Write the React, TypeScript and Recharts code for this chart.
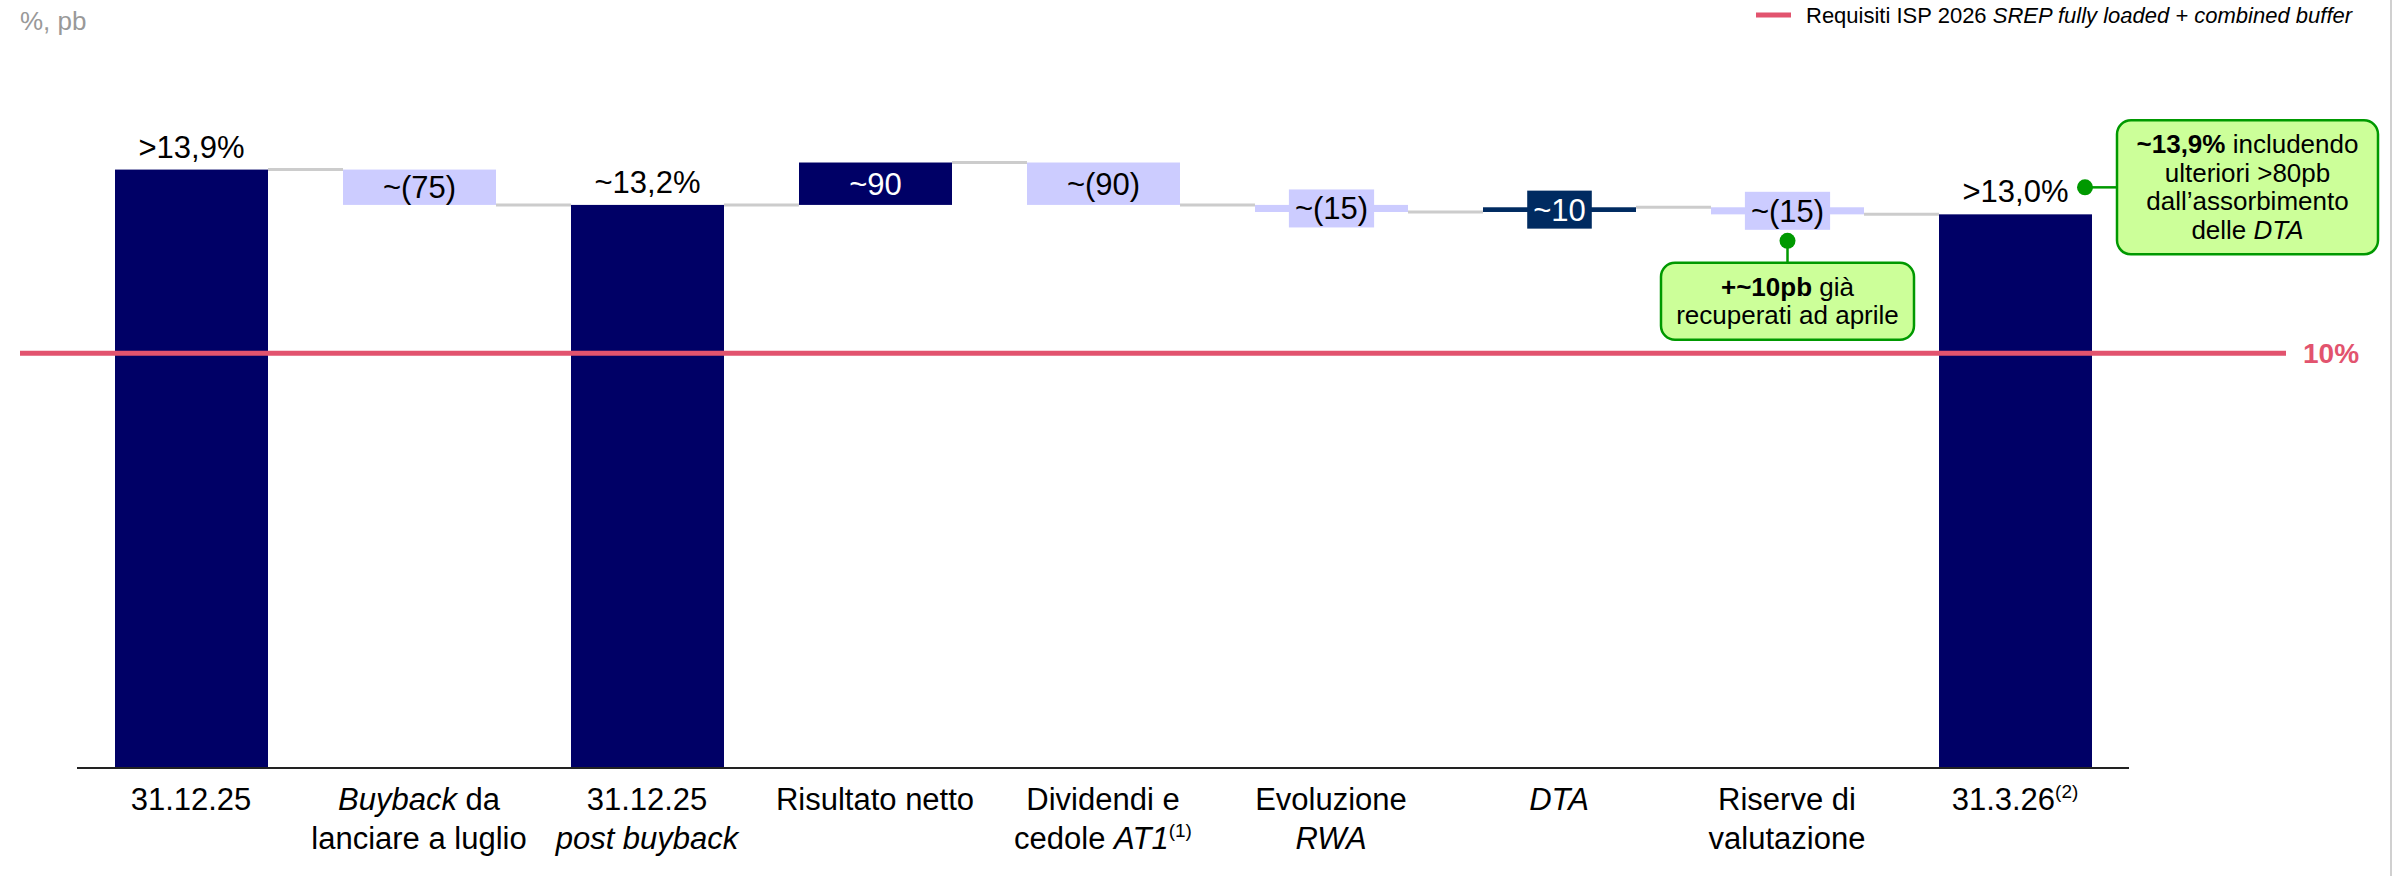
import React from "react";
import { ComposedChart, Bar, XAxis, YAxis, ReferenceLine } from "recharts";

// --- data -----------------------------------------------------------------
const categories = [
  "31.12.25",
  "Buyback da lanciare a luglio",
  "31.12.25 post buyback",
  "Risultato netto",
  "Dividendi e cedole AT1",
  "Evoluzione RWA",
  "DTA",
  "Riserve di valutazione",
  "31.3.26",
];
const kinds = ["total", "delta", "total", "delta", "delta", "delta", "delta", "delta", "total"];
// totals in %, deltas in % points (75pb = 0.75)
const values = [13.9, -0.75, 13.15, 0.9, -0.9, -0.15, 0.1, -0.15, 12.95];
const valueLabels = [">13,9%", "~(75)", "~13,2%", "~90", "~(90)", "~(15)", "~10", "~(15)", ">13,0%"];
const barColors = ["#000066", "#CCCCFF", "#000066", "#000066", "#CCCCFF", "#CCCCFF", "#002B61", "#CCCCFF", "#000066"];

const requirement = 10;
const requirementLabel = "10%";
const legendText = "Requisiti ISP 2026 ";
const legendItalic = "SREP fully loaded + combined buffer";
const unitLabel = "%, pb";

// the axis is broken: totals start from the axis floor, not from 0
const axisFloor = 1.2;
const axisTop = 16.65;

type Seg = { t: string; i?: boolean; b?: boolean; sup?: boolean };

const tickLines: Seg[][][] = [
  [[{ t: "31.12.25" }]],
  [[{ t: "Buyback", i: true }, { t: " da" }], [{ t: "lanciare a luglio" }]],
  [[{ t: "31.12.25" }], [{ t: "post buyback", i: true }]],
  [[{ t: "Risultato netto" }]],
  [[{ t: "Dividendi e" }], [{ t: "cedole " }, { t: "AT1", i: true }, { t: "(1)", sup: true }]],
  [[{ t: "Evoluzione" }], [{ t: "RWA", i: true }]],
  [[{ t: "DTA", i: true }]],
  [[{ t: "Riserve di" }], [{ t: "valutazione" }]],
  [[{ t: "31.3.26" }, { t: "(2)", sup: true }]],
];

const notes: { at: number; side: "below" | "right"; lines: Seg[][] }[] = [
  {
    at: 7,
    side: "below",
    lines: [[{ t: "+~10pb", b: true }, { t: " già" }], [{ t: "recuperati ad aprile" }]],
  },
  {
    at: 8,
    side: "right",
    lines: [
      [{ t: "~13,9%", b: true }, { t: " includendo" }],
      [{ t: "ulteriori >80pb" }],
      [{ t: "dall’assorbimento" }],
      [{ t: "delle " }, { t: "DTA", i: true }],
    ],
  },
];

// --- layout ---------------------------------------------------------------
const W = 2394;
const H = 876;
const FONT = '"Liberation Sans", Arial, sans-serif';
const MARGIN = { top: 40, right: 265, bottom: 8, left: 77 };
const BAR_SIZE = 153;
const BAND = (W - MARGIN.left - MARGIN.right) / categories.length;
const GAP = BAND - BAR_SIZE;
const RED = "#E2536E";
const GREEN = "#009900";

let level = 0;
const rows = categories.map((name, i) => {
  if (kinds[i] === "total") {
    level = values[i];
    return { name, i, up: true, range: [axisFloor, values[i]] };
  }
  const start = level;
  level = start + values[i];
  return { name, i, up: values[i] > 0, range: [Math.min(start, level), Math.max(start, level)] };
});

const CHAR_W: Record<string, number> = { "~": 0.584, "(": 0.333, ")": 0.333 };
function textWidth(s: string, size: number) {
  return [...s].reduce((w, c) => w + (CHAR_W[c] ?? 0.556), 0) * size;
}

function Segs({ segs, supSize }: { segs: Seg[]; supSize: number }) {
  return (
    <>
      {segs.map((s, k) => (
        <tspan
          key={k}
          fontStyle={s.i ? "italic" : undefined}
          fontWeight={s.b ? "bold" : undefined}
          fontSize={s.sup ? supSize : undefined}
          dy={s.sup ? -12 : undefined}
        >
          {s.t}
        </tspan>
      ))}
    </>
  );
}

function Callout({ x, y, side, lines }: { x: number; y: number; side: string; lines: Seg[][] }) {
  const lh = 28.5;
  const bh = lines.length * lh + 20;
  const bw = side === "below" ? 253 : 261;
  let bx: number, by: number, stem: React.ReactNode;
  if (side === "below") {
    bx = x - bw / 2;
    by = y + 22;
    stem = <line x1={x} x2={x} y1={y} y2={by} stroke={GREEN} strokeWidth={2.5} />;
  } else {
    bx = x + 32;
    by = y - bh / 2;
    stem = <line x1={x} x2={bx} y1={y} y2={y} stroke={GREEN} strokeWidth={2.5} />;
  }
  return (
    <g>
      {stem}
      <circle cx={x} cy={y} r={8} fill={GREEN} />
      <rect x={bx} y={by} width={bw} height={bh} rx={14} fill="#CCFF99" stroke={GREEN} strokeWidth={2.5} />
      {lines.map((ln, k) => (
        <text
          key={k}
          x={bx + bw / 2}
          y={by + 33 + k * lh}
          textAnchor="middle"
          fontSize={26}
          fontFamily={FONT}
          fill="#000"
          style={{ whiteSpace: "pre" }}
        >
          <Segs segs={ln} supSize={17} />
        </text>
      ))}
    </g>
  );
}

function WaterfallShape(props: any) {
  const { x, y, width, height, payload } = props;
  const i: number = payload.i;
  const top = Math.min(y, y + height);
  const h = Math.abs(height);
  const cx = x + width / 2;
  const midY = top + h / 2;
  const endY = payload.up ? top : top + h;
  const color = barColors[i];
  const dark = color !== "#CCCCFF";
  const label = valueLabels[i];
  const note = notes.find((n) => n.at === i);

  let labelEl: React.ReactNode;
  if (kinds[i] === "total") {
    labelEl = (
      <text x={cx} y={top - 12} textAnchor="middle" fontSize={31} fontFamily={FONT} fill="#000">
        {label}
      </text>
    );
  } else {
    const bw = textWidth(label, 31) + 12;
    labelEl = (
      <g>
        {h < 20 && <rect x={cx - bw / 2} y={midY - 19} width={bw} height={38} fill={color} />}
        <text x={cx} y={midY + 11} textAnchor="middle" fontSize={31} fontFamily={FONT} fill={dark ? "#fff" : "#000"}>
          {label}
        </text>
      </g>
    );
  }

  return (
    <g>
      {i < categories.length - 1 && (
        <line x1={x + width} x2={x + width + GAP} y1={endY} y2={endY} stroke="#CCCCCC" strokeWidth={3} />
      )}
      <rect x={x} y={top} width={width} height={Math.max(h, 1)} fill={color} />
      {labelEl}
      {note &&
        (note.side === "below" ? (
          <Callout x={cx} y={midY + 30} side="below" lines={note.lines} />
        ) : (
          <Callout x={x + width - 7} y={top - 27} side="right" lines={note.lines} />
        ))}
    </g>
  );
}

function CategoryTick(props: any) {
  const { x, y, payload } = props;
  const idx = categories.indexOf(payload.value);
  const lines = tickLines[idx] ?? [];
  return (
    <g>
      {lines.map((ln, k) => (
        <text
          key={k}
          x={x}
          y={y + 42 + k * 39}
          textAnchor="middle"
          fontSize={31}
          fontFamily={FONT}
          fill="#000"
          style={{ whiteSpace: "pre" }}
        >
          <Segs segs={ln} supSize={19} />
        </text>
      ))}
    </g>
  );
}

export default function App() {
  return (
    <div style={{ position: "absolute", left: 0, top: 0, width: W, height: H, background: "#fff" }}>
      <ComposedChart width={W} height={H} data={rows} margin={MARGIN}>
        <YAxis hide domain={[axisFloor, axisTop]} allowDataOverflow />
        <XAxis
          dataKey="name"
          interval={0}
          tickLine={false}
          tickSize={0}
          tickMargin={0}
          height={100}
          axisLine={{ stroke: "#222", strokeWidth: 2 }}
          tick={<CategoryTick />}
        />
        <Bar dataKey="range" barSize={BAR_SIZE} isAnimationActive={false} shape={<WaterfallShape />} />
        <ReferenceLine
          y={requirement}
          shape={(p: any) => (
            <g>
              <line x1={20} x2={2286} y1={p.y1} y2={p.y1} stroke={RED} strokeWidth={5} />
              <text x={2303} y={p.y1 + 10} fontSize={28} fontWeight="bold" fontFamily={FONT} fill={RED}>
                {requirementLabel}
              </text>
            </g>
          )}
        />
      </ComposedChart>
      <svg
        width={W}
        height={H}
        style={{ position: "absolute", left: 0, top: 0, pointerEvents: "none" }}
      >
        <text x={20} y={30} fontSize={26} fontFamily={FONT} fill="#999">
          {unitLabel}
        </text>
        <line x1={1756} x2={1791} y1={15} y2={15} stroke={RED} strokeWidth={5} />
        <text x={1806} y={23} fontSize={22} fontFamily={FONT} fill="#000" style={{ whiteSpace: "pre" }}>
          {legendText}
          <tspan fontStyle="italic">{legendItalic}</tspan>
        </text>
        <line x1={2391} x2={2391} y1={0} y2={H} stroke="#D0D0D0" strokeWidth={2} />
      </svg>
    </div>
  );
}
